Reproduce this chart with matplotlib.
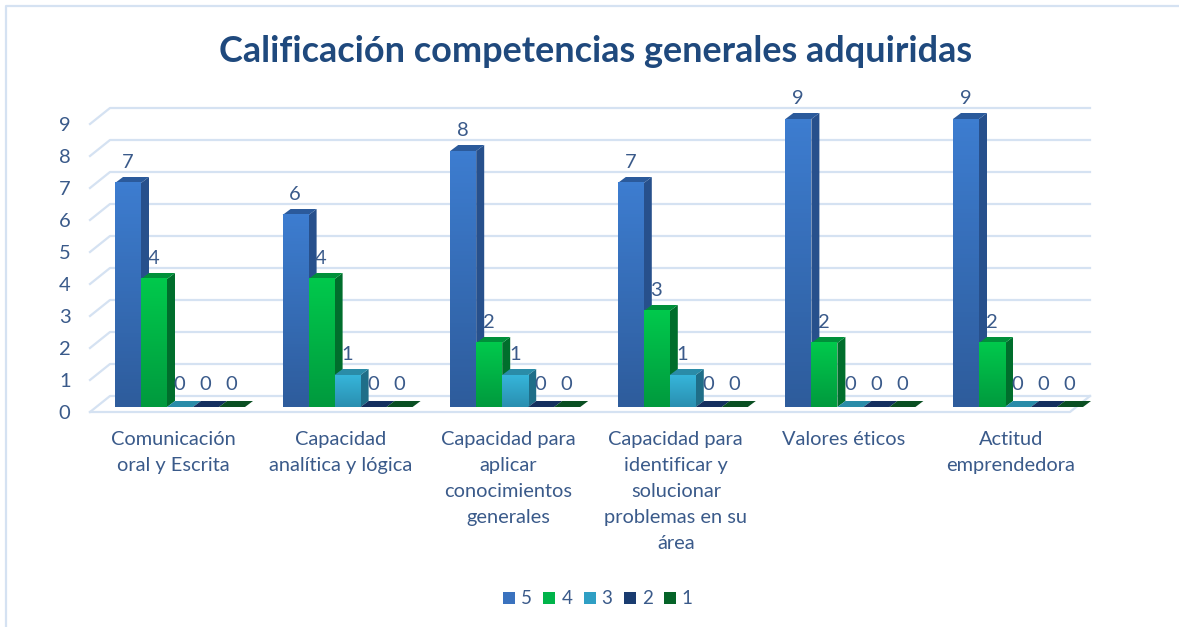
import numpy as np
import matplotlib
matplotlib.use("Agg")
import matplotlib.pyplot as plt
from matplotlib.colors import LinearSegmentedColormap
from matplotlib.lines import Line2D
from matplotlib.patches import Patch, Polygon

categories = [
    "Comunicación\noral y Escrita",
    "Capacidad\nanalítica y lógica",
    "Capacidad para\naplicar\nconocimientos\ngenerales",
    "Capacidad para\nidentificar y\nsolucionar\nproblemas en su\nárea",
    "Valores éticos",
    "Actitud\nemprendedora",
]
series_names = ["5", "4", "3", "2", "1"]
vals_5 = [7, 6, 8, 7, 9, 9]
vals_4 = [4, 4, 2, 3, 2, 2]
vals_3 = [0, 1, 1, 1, 0, 0]
vals_2 = [0, 0, 0, 0, 0, 0]
vals_1 = [0, 0, 0, 0, 0, 0]
title = "Calificación competencias generales adquiridas"

# top of front face, bottom of front face, side, top cap
styles = [
    ("#3D7DD0", "#2E5C9C", "#27508C", "#2B5A9B"),
    ("#00C94C", "#009A3E", "#006E2C", "#00903A"),
    ("#36B5DA", "#2A8FB0", "#1F6E88", "#2A8CA8"),
    ("#1C3F75", "#15305F", "#122850", "#15305F"),
    ("#06702C", "#055A24", "#044A1D", "#0A4F22"),
]
legend_colors = ["#3A72BE", "#00B44A", "#2F9FC4", "#1A3C70", "#056328"]
text_color = "#3A5A8A"
title_color = "#1F497D"
grid_color = "#D5E2F2"

plt.rcParams["font.family"] = ["Lato", "DejaVu Sans"]

W, H = 1179, 627
fig = plt.figure(figsize=(W / 100, H / 100), dpi=100)
left, right, bottom_px, top_px = 90, 1070, 412, 124
ax = fig.add_axes([left / W, 1 - bottom_px / H, (right - left) / W, (bottom_px - top_px) / H])

pitch = 167.6
first_center = 173
ax.set_xlim((left - first_center) / pitch, (right - first_center) / pitch)
ax.set_ylim(0, 9)

# pixels to data units
px = 1 / pitch
py = 9 / (bottom_px - top_px)

# back wall grid and left wall diagonals
wall_dx, wall_dy = 20 * px, 16 * py
xa, xb = ax.get_xlim()
for v in range(10):
    ax.plot([xa, xa + wall_dx, xb + wall_dx], [v, v + wall_dy, v + wall_dy],
            color=grid_color, lw=1.6, zorder=1, clip_on=False)
ax.plot([xa, xb, xb + wall_dx], [0, 0, wall_dy], color=grid_color, lw=1.6, zorder=1, clip_on=False)

bar_w = 26 * px
start = -58 * px
floor = 5 * py
dx, dy = 8 * px, 6 * py

all_vals = [vals_5, vals_4, vals_3, vals_2, vals_1]
for s, vals in enumerate(all_vals):
    top_c, bot_c, side_c, cap_c = styles[s]
    cmap = LinearSegmentedColormap.from_list(f"s{s}", [top_c, bot_c])
    for i, v in enumerate(vals):
        x0 = i + start + s * bar_w
        x1 = x0 + bar_w
        y0 = floor
        y1 = floor + v
        z = 3 + s
        ax.add_patch(Polygon([(x1, y0), (x1 + dx, y0 + dy), (x1 + dx, y1 + dy), (x1, y1)],
                             closed=True, fc=side_c, ec="none", zorder=z, clip_on=False))
        ax.add_patch(Polygon([(x0, y1), (x0 + dx, y1 + dy), (x1 + dx, y1 + dy), (x1, y1)],
                             closed=True, fc=cap_c, ec="none", zorder=z, clip_on=False))
        if v > 0:
            ax.imshow(np.linspace(0, 1, 64)[:, None], cmap=cmap, aspect="auto",
                      extent=(x0, x1, y0, y1), zorder=z, clip_on=False)
        ax.text((x0 + x1) / 2 - 0.5 * px, y1 + (20 if v > 0 else 22) * py, str(v), ha="center", va="center",
                fontsize=14.5, color=text_color, zorder=10)

ax.set_xlim(xa, xb)
ax.set_ylim(0, 9)

ax.set_yticks(range(10))
ax.set_xticks(range(len(categories)))
ax.set_xticklabels(categories, linespacing=1.64)
ax.tick_params(axis="y", length=0, pad=14, labelsize=14.5, labelcolor=text_color)
ax.tick_params(axis="x", length=0, pad=14, labelsize=14.4, labelcolor=text_color)
for sp in ax.spines.values():
    sp.set_visible(False)
ax.patch.set_visible(False)

fig.text(596 / W, 1 - 52 / H, title, ha="center", va="center", fontsize=25.9,
         fontweight="bold", color=title_color)

handles = [Patch(fc=c, ec="none", label=n) for c, n in zip(legend_colors, series_names)]
fig.legend(handles=handles, ncol=5, loc="center", bbox_to_anchor=(598 / W, 1 - 599 / H), frameon=False,
           fontsize=13.5, labelcolor=text_color, handlelength=0.64, handleheight=0.64,
           handletextpad=0.32, columnspacing=0.6)

# outer frame, only left and top show in the crop
fig.add_artist(Line2D([6 / W, 6 / W, 1], [0, 1 - 6 / H, 1 - 6 / H], color=grid_color, lw=1.6))

fig.savefig("out.png", dpi=100)
